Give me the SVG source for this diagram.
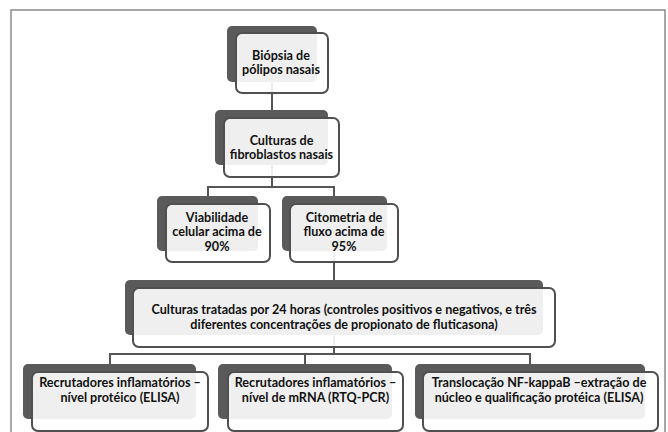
<svg xmlns="http://www.w3.org/2000/svg" width="668" height="432" viewBox="0 0 668 432">
<style>
.bg{fill:#ffffff}
.frame{fill:none;stroke:#8a8a8a;stroke-width:1.5}
.back{fill:#5a5a5a}
.front{fill:#ffffff;fill-opacity:0.9;stroke:#505050;stroke-width:2}
.conn{fill:none;stroke:#555555;stroke-width:2}
text{font-family:Lato,"Liberation Sans",sans-serif;font-weight:bold;font-size:12.6px;fill:#111111;text-anchor:middle}
</style>
<rect class="bg" x="0" y="0" width="668" height="432"/>
<rect class="frame" x="11" y="10" width="654" height="440"/>
<g id="connectors">
<path class="conn" d="M272 82 V110"/>
<path class="conn" d="M272 165 V187 M208 196 V187 H334 V196"/>
<path class="conn" d="M334 251 V280"/>
<path class="conn" d="M334 335 V354 M110 364 V354 H530 V364 M305 354 V364"/>
</g>
<g id="n1">
<rect class="back" x="227" y="26" width="90" height="56" rx="5"/>
<rect class="front" x="236" y="33" width="92" height="60" rx="6"/>
<text x="281" y="60">Biópsia de</text>
<text x="281" y="73.5">pólipos nasais</text>
</g>
<g id="n2">
<rect class="back" x="215" y="110" width="113" height="55" rx="5"/>
<rect class="front" x="224" y="118" width="115" height="59" rx="6"/>
<text x="281.5" y="145">Culturas de</text>
<text x="281.5" y="158.5">fibroblastos nasais</text>
</g>
<g id="n3">
<rect class="back" x="157" y="196" width="101" height="55" rx="5"/>
<rect class="front" x="166" y="204" width="104" height="58" rx="6"/>
<text x="217" y="221.5">Viabilidade</text>
<text x="217" y="236">celular acima de</text>
<text x="217" y="250.5">90%</text>
</g>
<g id="n4">
<rect class="back" x="282" y="196" width="105" height="55" rx="5"/>
<rect class="front" x="290" y="204" width="108" height="58" rx="6"/>
<text x="344" y="221.5">Citometria de</text>
<text x="344" y="236">fluxo acima de</text>
<text x="344" y="250.5">95%</text>
</g>
<g id="n5">
<rect class="back" x="125" y="280" width="418" height="55" rx="5"/>
<rect class="front" x="133" y="288" width="422" height="59" rx="6"/>
<text x="344" y="313.5">Culturas tratadas por 24 horas (controles positivos e negativos, e três</text>
<text x="344" y="328.5">diferentes concentrações de propionato de fluticasona)</text>
</g>
<g id="n6">
<rect class="back" x="23" y="364" width="173" height="55" rx="5"/>
<rect class="front" x="32" y="372" width="176" height="59" rx="6"/>
<text x="120" y="387">Recrutadores inflamatórios –</text>
<text x="120" y="402">nível protéico (ELISA)</text>
</g>
<g id="n7">
<rect class="back" x="218" y="364" width="174" height="55" rx="5"/>
<rect class="front" x="228" y="372" width="175" height="59" rx="6"/>
<text x="315.5" y="387">Recrutadores inflamatórios –</text>
<text x="315.5" y="402">nível de mRNA (RTQ-PCR)</text>
</g>
<g id="n8">
<rect class="back" x="415" y="364" width="230" height="55" rx="5"/>
<rect class="front" x="423" y="372" width="235" height="59" rx="6"/>
<text x="539" y="387">Translocação NF-kappaB –extração de</text>
<text x="539" y="402">núcleo e qualificação protéica (ELISA)</text>
</g>
</svg>
